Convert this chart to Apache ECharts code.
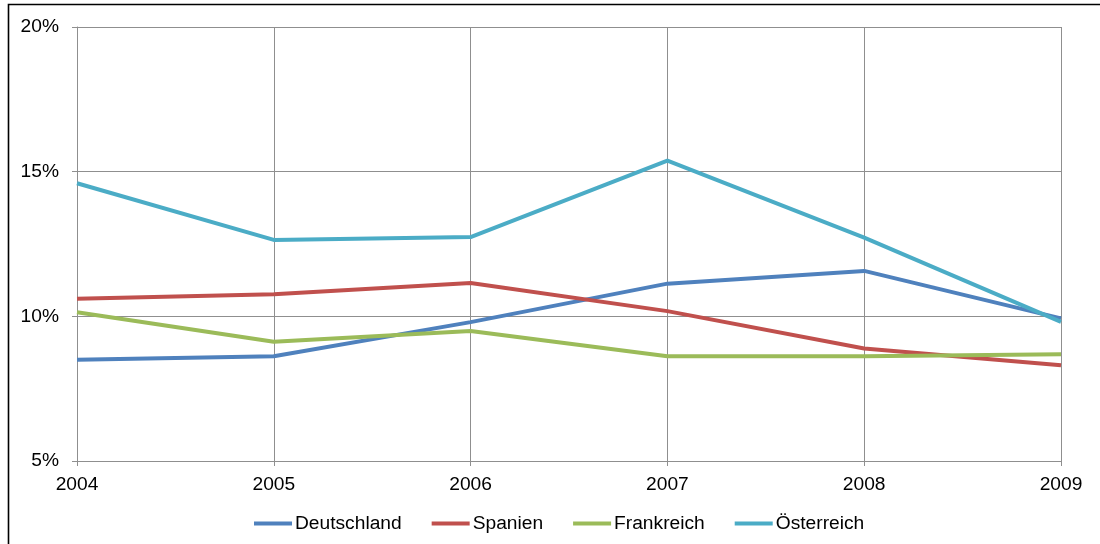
<!DOCTYPE html>
<html>
<head>
<meta charset="utf-8">
<script src="https://cdn.jsdelivr.net/npm/echarts@6/dist/echarts.min.js"></script>
<style>
  html, body { margin: 0; padding: 0; background: #fff; }
  #chart { width: 1100px; height: 544px; }
</style>
</head>
<body>
<div id="chart"></div>
<script>
// Years on the horizontal axis
const years = ['2004', '2005', '2006', '2007', '2008', '2009'];

// Shares in percent per country
const deutschland = [8.50, 8.62, 9.80, 11.13, 11.57, 9.93];
const spanien     = [10.61, 10.76, 11.15, 10.18, 8.89, 8.31];
const frankreich  = [10.14, 9.12, 9.49, 8.62, 8.62, 8.69];
const oesterreich = [14.60, 12.64, 12.74, 15.38, 12.72, 9.81];

const seriesNames = ['Deutschland', 'Spanien', 'Frankreich', 'Österreich'];
const seriesData = [deutschland, spanien, frankreich, oesterreich];
const colors = ['#4F81BD', '#C0504D', '#9BBB59', '#4BACC6'];

const FONT = '"Liberation Sans", Arial, sans-serif';
const FONT_SIZE = 19.2;
const GRID_COLOR = '#8f8f8f';

const chart = echarts.init(document.getElementById('chart'), null, { renderer: 'canvas' });

chart.setOption({
  animation: false,
  backgroundColor: '#ffffff',
  color: colors,
  textStyle: { fontFamily: FONT },
  graphic: [{
    type: 'rect',
    shape: { x: 8.5, y: 4.5, width: 1200, height: 700 },
    style: { fill: 'none', stroke: '#000', lineWidth: 1.6 },
    silent: true,
    z: 100
  }],
  grid: { left: 77, right: 39, top: 27, bottom: 83, containLabel: false },
  legend: {
    bottom: 6,
    left: 249,
    icon: 'rect',
    itemWidth: 38,
    itemHeight: 4,
    itemGap: 30,
    textStyle: { fontFamily: FONT, fontSize: FONT_SIZE, color: '#000', padding: [0, 0, 0, -2] },
    data: seriesNames
  },
  xAxis: {
    type: 'category',
    data: years,
    boundaryGap: false,
    axisLine: { show: true, lineStyle: { color: GRID_COLOR, width: 1 } },
    axisTick: { show: true, length: 5, inside: false, lineStyle: { color: GRID_COLOR } },
    axisLabel: { color: '#000', fontFamily: FONT, fontSize: FONT_SIZE, margin: 14 },
    splitLine: { show: true, lineStyle: { color: GRID_COLOR, width: 1 } }
  },
  yAxis: {
    type: 'value',
    min: 5,
    max: 20,
    interval: 5,
    axisLine: { show: true, lineStyle: { color: GRID_COLOR, width: 1 } },
    axisTick: { show: true, length: 5, lineStyle: { color: GRID_COLOR } },
    axisLabel: { color: '#000', fontFamily: FONT, fontSize: FONT_SIZE, margin: 18, formatter: '{value}%' },
    splitLine: { show: true, lineStyle: { color: GRID_COLOR, width: 1 } }
  },
  series: seriesNames.map((name, i) => ({
    name: name,
    type: 'line',
    data: seriesData[i],
    symbol: 'none',
    smooth: false,
    lineStyle: { width: 4, color: colors[i] },
    itemStyle: { color: colors[i] }
  }))
});
</script>
</body>
</html>
